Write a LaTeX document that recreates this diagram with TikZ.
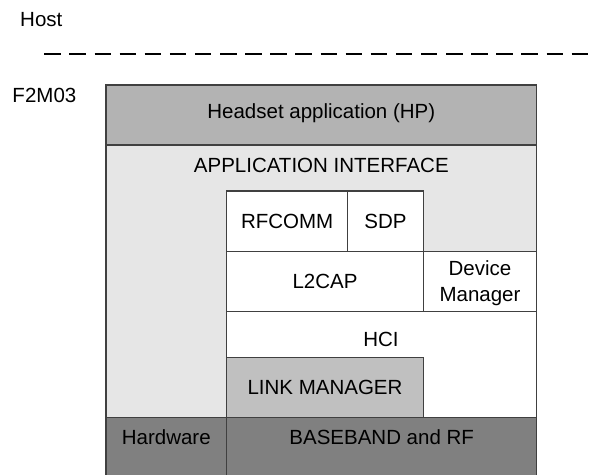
\documentclass[tikz,border=0pt]{standalone}
\usepackage{fontspec}
\setmainfont{Liberation Sans}
\definecolor{hpgray}{HTML}{B3B3B3}
\definecolor{apigray}{HTML}{E6E6E6}
\definecolor{lmgray}{HTML}{C0C0C0}
\definecolor{bbgray}{HTML}{808080}
\definecolor{edge}{HTML}{404040}
\tikzset{
  lbl/.style={inner sep=0pt, font=\fontsize{20.5}{26}\selectfont, text=black},
  layer/.style={draw=edge, line width=1.2pt},
}
\begin{document}
\begin{tikzpicture}[x=1pt,y=-1pt]
\useasboundingbox (0,0) rectangle (593,474);
\clip (0,0) rectangle (593,474);
% labels outside
\node[lbl, anchor=base west] (host) at (20,26.7) {Host};
\node[lbl, anchor=base west] (fig) at (12.3,102.3) {F2M03};
\coordinate (dl) at (44.3,54);
\coordinate (dr) at (593,54);
\draw[line width=2pt, dash pattern=on 16.5pt off 8.61pt] (dl) -- (dr);
% application interface background
\path[layer, fill=apigray] (106,145) rectangle (536.7,417.7);
\node[lbl] (api) at (321.3,165.3) {APPLICATION INTERFACE};
% headset
\path[layer, fill=hpgray] (106,85) rectangle (536.7,145);
\node[lbl] (hp) at (321.3,113.5) {Headset application (HP)};
% HCI
\path[layer, fill=white] (226.7,311.7) rectangle (536.7,417.7);
\node[lbl] (hci) at (381,339.7) {HCI};
% RFCOMM, SDP
\path[layer, fill=white] (226.7,191) rectangle (347.7,251.7);
\node[lbl] (rf) at (287.2,221.3) {RFCOMM};
\path[layer, fill=white] (347.7,191) rectangle (423.3,251.7);
\node[lbl] (sdp) at (385.5,221.3) {SDP};
% L2CAP, device manager
\path[layer, fill=white] (226.7,251.7) rectangle (423.3,311.7);
\node[lbl] (l2) at (325,281.7) {L2CAP};
\path[layer, fill=white] (423.3,251.7) rectangle (536.7,311.7);
\node[lbl, align=center] (dm) at (480,283) {Device\\Manager};
% link manager
\path[layer, fill=lmgray] (226.7,357.3) rectangle (423.3,417.7);
\node[lbl] (lm) at (325,387.5) {LINK MANAGER};
% hardware, baseband
\path[layer, fill=bbgray] (106,417.7) rectangle (226.7,490);
\node[lbl] (hw) at (166.3,437.5) {Hardware};
\path[layer, fill=bbgray] (226.7,417.7) rectangle (536.7,490);
\node[lbl] (bb) at (381.7,437.5) {BASEBAND and RF};
\end{tikzpicture}
\end{document}
